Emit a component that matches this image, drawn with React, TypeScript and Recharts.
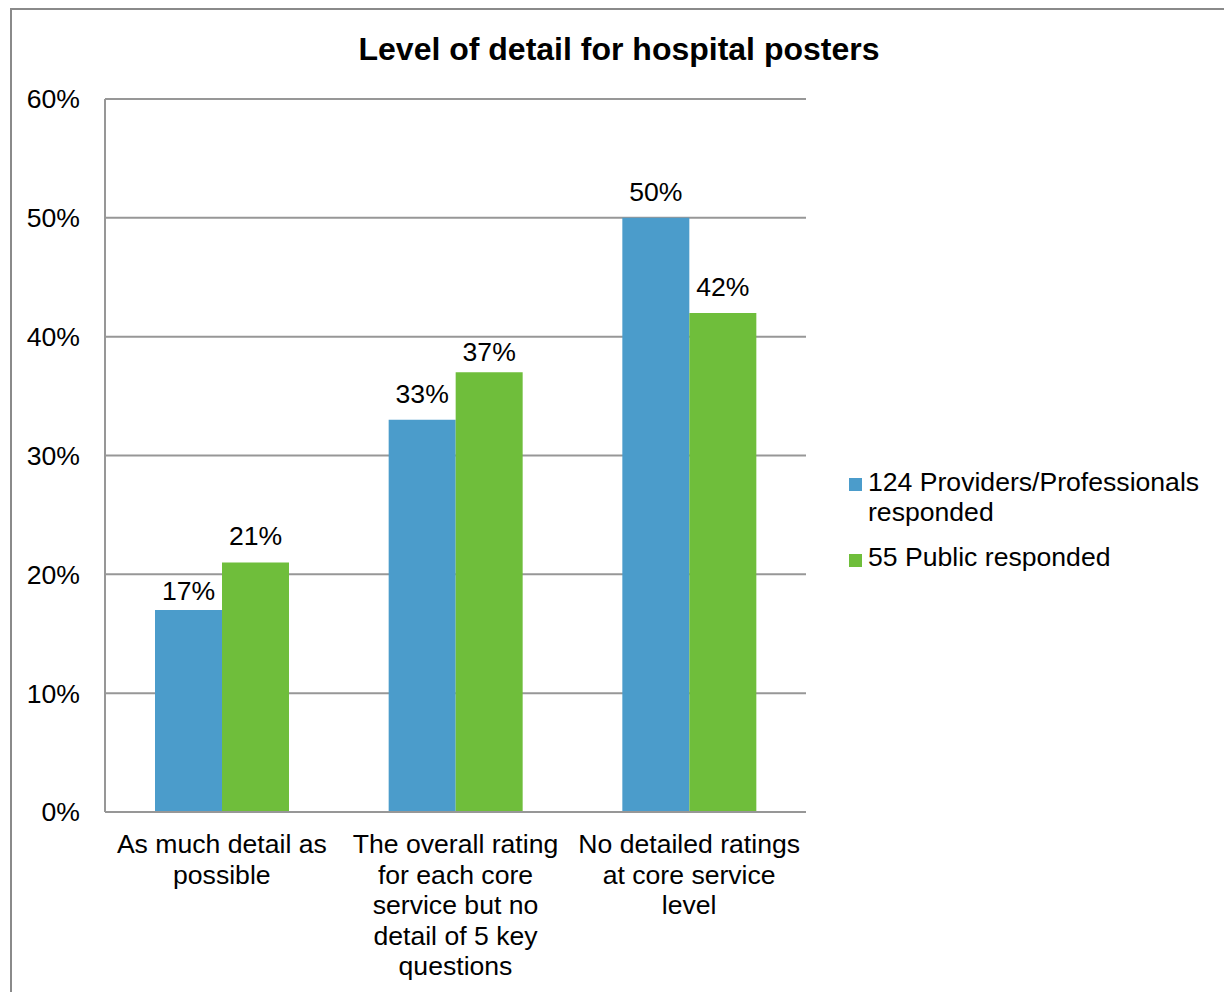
import React from 'react';
import { BarChart, Bar, XAxis, YAxis, CartesianGrid, Legend, LabelList } from 'recharts';

const categories = [
  'As much detail as possible',
  'The overall rating for each core service but no detail of 5 key questions',
  'No detailed ratings at core service level',
];

// wrapped lines for each category label
const categoryLines: string[][] = [
  ['As much detail as', 'possible'],
  ['The overall rating', 'for each core', 'service but no', 'detail of 5 key', 'questions'],
  ['No detailed ratings', 'at core service', 'level'],
];

const providers = [17, 33, 50];
const publicResp = [21, 37, 42];

const seriesNames = ['124 Providers/Professionals responded', '55 Public responded'];
const legendLines: string[][] = [
  ['124 Providers/Professionals', 'responded'],
  ['55 Public responded'],
];
const colors = ['#4b9ccb', '#6fbe3b'];

const yTicks = [0, 10, 20, 30, 40, 50, 60];

// gap between bar top and its value label, per point
const providerLabelGap = [10, 17, 17];
const publicLabelGap = [17, 11, 17];

const data = categories.map((c, i) => ({
  category: c,
  providers: providers[i],
  publicResp: publicResp[i],
}));

const FONT = '"Liberation Sans", Arial, sans-serif';
const FS = 26.6;
const GRID = '#979797';

const CategoryTick = (props: any) => {
  const { x, y, payload } = props;
  const idx = categories.indexOf(payload.value);
  const lines = idx >= 0 ? categoryLines[idx] : [String(payload.value)];
  return (
    <g>
      {lines.map((ln, i) => (
        <text
          key={i}
          x={x}
          y={y + 41 + i * 30.6}
          textAnchor="middle"
          fontSize={FS}
          fontFamily={FONT}
          fill="#000"
        >
          {ln}
        </text>
      ))}
    </g>
  );
};

const makeValueLabel = (gaps: number[]) => (props: any) => {
  const { x, y, width, value, index } = props;
  return (
    <text
      x={x + width / 2}
      y={y - gaps[index]}
      textAnchor="middle"
      fontSize={FS}
      fontFamily={FONT}
      fill="#000"
    >
      {`${value}%`}
    </text>
  );
};

const LegendContent = () => (
  <svg width={384} height={130} style={{ display: 'block' }}>
    <rect x={9} y={18} width={13} height={13} fill={colors[0]} />
    <text x={28} y={31} fontSize={FS} fontFamily={FONT} fill="#000">{legendLines[0][0]}</text>
    <text x={28} y={61} fontSize={FS} fontFamily={FONT} fill="#000">{legendLines[0][1]}</text>
    <rect x={9} y={94} width={13} height={13} fill={colors[1]} />
    <text x={28} y={106} fontSize={FS} fontFamily={FONT} fill="#000">{legendLines[1][0]}</text>
  </svg>
);

export default function App() {
  return (
    <div
      style={{
        position: 'absolute',
        left: 0,
        top: 0,
        width: 1224,
        height: 992,
        overflow: 'hidden',
        background: '#fff',
        fontFamily: FONT,
      }}
    >
      <div
        style={{
          position: 'absolute',
          left: 10,
          top: 8,
          width: 1400,
          height: 1200,
          border: '2px solid #8a8a8a',
          boxSizing: 'border-box',
        }}
      />
      <svg width={1224} height={100} style={{ position: 'absolute', left: 0, top: 0 }}>
        <text x={619} y={60} textAnchor="middle" fontSize={32} fontWeight="bold" fontFamily={FONT} fill="#000">
          Level of detail for hospital posters
        </text>
      </svg>
      <div style={{ position: 'absolute', left: 0, top: 0 }}>
        <BarChart
          width={1224}
          height={992}
          data={data}
          margin={{ top: 99, right: 418, bottom: 0, left: 0 }}
          barGap={0}
          barSize={67}
        >
          <CartesianGrid vertical={false} stroke={GRID} strokeWidth={2} />
          <XAxis
            dataKey="category"
            height={180}
            interval={0}
            tickLine={false}
            tickSize={0}
            tickMargin={0}
            axisLine={{ stroke: GRID, strokeWidth: 2 }}
            tick={<CategoryTick />}
          />
          <YAxis
            width={105}
            domain={[0, 60]}
            ticks={yTicks}
            interval={0}
            tickLine={false}
            tickSize={0}
            tickMargin={25}
            axisLine={{ stroke: GRID, strokeWidth: 2 }}
            tickFormatter={(v: number) => `${v}%`}
            tick={{ fontSize: FS, fontFamily: FONT, fill: '#000' }}
          />
          <Legend
            layout="vertical"
            align="center"
            verticalAlign="middle"
            wrapperStyle={{ left: 840, top: 460, width: 384 }}
            content={<LegendContent />}
          />
          <Bar dataKey="providers" name={seriesNames[0]} fill={colors[0]} isAnimationActive={false}>
            <LabelList dataKey="providers" content={makeValueLabel(providerLabelGap)} />
          </Bar>
          <Bar dataKey="publicResp" name={seriesNames[1]} fill={colors[1]} isAnimationActive={false}>
            <LabelList dataKey="publicResp" content={makeValueLabel(publicLabelGap)} />
          </Bar>
        </BarChart>
      </div>
    </div>
  );
}
